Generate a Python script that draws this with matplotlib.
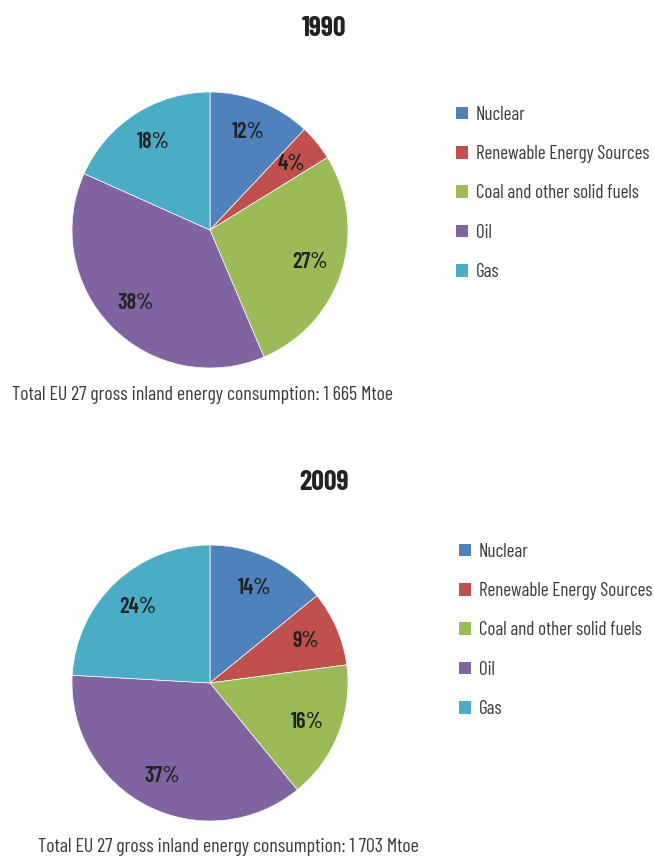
import matplotlib
matplotlib.use("Agg")
import matplotlib.pyplot as plt
from matplotlib.patches import Patch

plt.rcParams['font.family'] = ['Barlow Condensed', 'Roboto Condensed', 'DejaVu Sans']

categories = ["Nuclear", "Renewable Energy Sources", "Coal and other solid fuels", "Oil", "Gas"]
colors = ["#4F81BD", "#C0504D", "#9BBB59", "#8064A2", "#4BACC6"]
years = ["1990", "2009"]
values_1990 = [12.0, 4.2, 27.4, 38.1, 18.3]
values_2009 = [14.1, 8.8, 16.2, 36.8, 24.1]
totals = ["1 665", "1 703"]

W, H = 654, 857
fig = plt.figure(figsize=(W/100, H/100), dpi=100)

def px_axes(cx, cy, r):
    return fig.add_axes([(cx - r)/W, 1 - (cy + r)/H, 2*r/W, 2*r/H])

text_col = "#3a3a3a"
configs = [
    (values_1990, 210, 230, 324, 29, 455, 114, 12, 395, totals[0], years[0]),
    (values_2009, 210, 683, 324, 482, 458, 551, 38, 847, totals[1], years[1]),
]
for vals, cx, cy, tx, ty, lx, ly, fx, fy, tot, yr in configs:
    ax = px_axes(cx, cy, 138)
    wedges, texts, autotexts = ax.pie(
        vals, colors=colors, startangle=90, counterclock=False,
        autopct=lambda p: f"{p:.0f}%", pctdistance=0.76, radius=1,
        wedgeprops=dict(linewidth=0.5, edgecolor="white"),
        textprops=dict(fontsize=16, fontweight="semibold", color="#222222"))
    ax.set_xlim(-1, 1)
    ax.set_ylim(-1, 1)
    ax.set_aspect("equal")
    ax.axis("off")
    fig.text(tx/W, 1 - ty/H, yr, ha="center", va="center", fontsize=20,
             fontweight="bold", color="#222222")
    handles = [Patch(facecolor=c, edgecolor="none") for c in colors]
    fig.legend(handles, categories, loc="upper left",
               bbox_to_anchor=((lx - 5)/W, 1 - (ly - 14)/H),
               frameon=False, fontsize=13.7, handlelength=0.65, handleheight=0.65,
               handletextpad=0.4, labelspacing=1.12, labelcolor=text_col,
               borderpad=0.3, borderaxespad=0)
    fig.text(fx/W, 1 - fy/H, f"Total EU 27 gross inland energy consumption: {tot} Mtoe",
             ha="left", va="center", fontsize=14.3, color=text_col)

fig.savefig("out.png", dpi=100)
